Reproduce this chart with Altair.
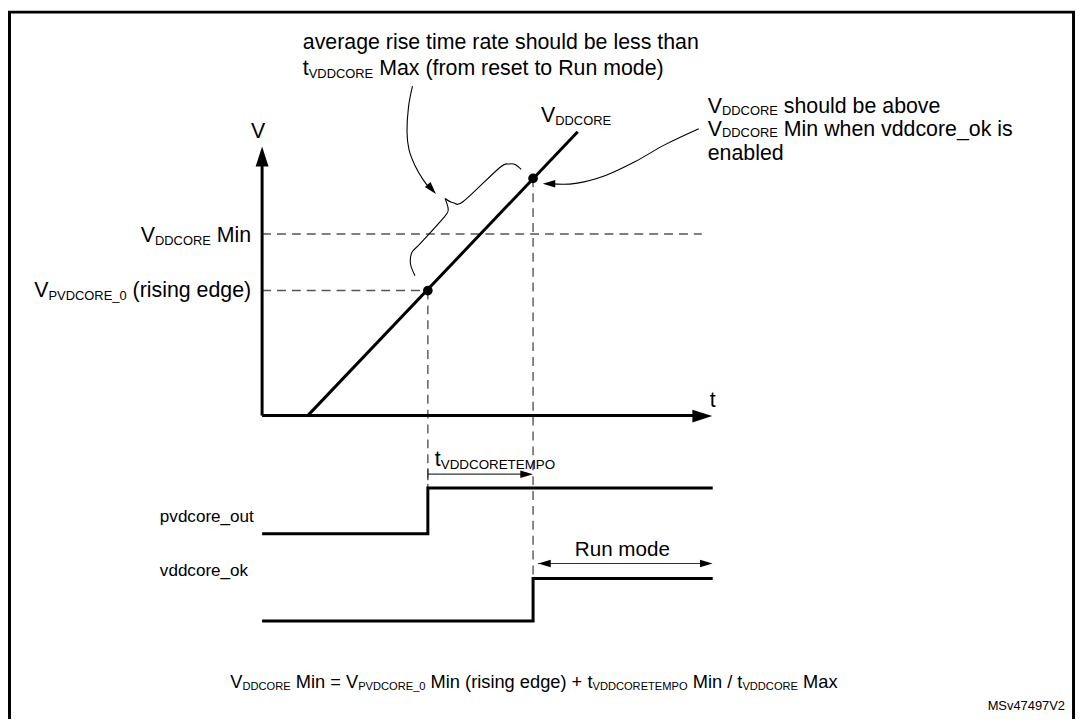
import altair as alt
import pandas as pd

FONT = "Liberation Sans"
W_PAGE, H_PAGE = 1077, 711  # plot area (page coords 8..1085, 8..719)

# ---------------- diagram geometry (figure pixel coordinates) ----------------
solid_seg = ["vaxis", "vaxis", "taxis", "taxis", "ramp", "ramp",
             "pvd", "pvd", "pvd", "pvd", "ok", "ok", "ok", "ok"]
solid_x = [264, 264, 264, 700, 310, 582, 264, 431, 431, 718, 264, 537, 537, 718]
solid_y = [416, 160, 416, 416, 416, 130, 535, 535, 489, 489, 623, 623, 580, 580]

border_x = [9.5, 9.5, 1081.5, 1081.5]
border_y = [760, 9.5, 9.5, 760]

dash_seg = ["min", "min", "pvd0", "pvd0", "v1", "v1", "v2", "v2"]
dash_x = [264, 707, 264, 431, 431, 431, 537, 537]
dash_y = [233, 233, 290, 290, 290, 489, 177, 580]

thin_seg = ["tempo", "tempo", "tick", "tick", "run", "run"]
thin_x = [431, 532, 431, 431, 542, 713]
thin_y = [475, 475, 469, 481, 565, 565]

# brace (two arms meeting at the cusp) and curved callout arrows
curve_seg = (["brace_lo"] * 7 + ["brace_hi"] * 7 + ["call1"] * 7 + ["call2"] * 6)
curve_x = [418, 413.5, 415, 423, 447, 451.5, 448.3,
           448.3, 456.5, 467, 503, 513, 519, 525,
           415.5, 411.5, 410, 412, 418, 426, 433,
           704, 670, 640, 610, 580, 556]
curve_y = [275, 263, 251.5, 243, 216.5, 208.5, 197.3,
           197.3, 201.5, 200, 166.5, 162.5, 163, 168,
           84, 105, 130, 148, 164, 178, 187,
           127, 143, 160, 174, 182, 182.5]

dots_x = [431, 537]
dots_y = [290, 177]

# arrowheads: centre, direction (deg, clockwise from up), size
head_x = [264, 707.5, 530.5, 548.5, 711.5, 435, 553]
head_y = [155, 416.5, 475, 565, 565, 188, 182.3]
head_ang = [0, 90, 90, 270, 90, 139, 270]
head_kind = ["big", "big", "small", "small", "small", "small", "small"]

# ---------------- text ----------------
ARIAL = {' ': 278, '(': 333, ')': 333, '+': 584, '=': 584, '/': 278, '_': 556,
         'A': 667, 'B': 667, 'C': 722, 'D': 722, 'E': 667, 'F': 611, 'G': 778,
         'H': 722, 'I': 278, 'K': 667, 'L': 556, 'M': 833, 'N': 722, 'O': 778,
         'P': 667, 'R': 722, 'S': 667, 'T': 611, 'U': 722, 'V': 667,
         'a': 556, 'b': 556, 'c': 500, 'd': 556, 'e': 556, 'f': 278, 'g': 556,
         'h': 556, 'i': 222, 'k': 500, 'l': 222, 'm': 833, 'n': 556, 'o': 556,
         'p': 556, 'r': 333, 's': 500, 't': 278, 'u': 556, 'v': 500, 'w': 722,
         'x': 500, 'y': 500, 'z': 500}
for d in "0123456789":
    ARIAL[d] = 556


def tw(s, fs):
    return sum(ARIAL.get(c, 556) for c in s) / 1000.0 * fs


MAIN, SUB = 21.5, 13


def run(x, y, pieces, align="left", fs=MAIN, sub=SUB, drop=3):
    total = sum(tw(t, sub if s else fs) for t, s in pieces)
    if align == "right":
        x -= total
    elif align == "center":
        x -= total / 2
    rows = []
    for t, s in pieces:
        f = sub if s else fs
        lead = len(t) - len(t.lstrip(" "))
        xs = x + tw(" " * lead, f)
        rows.append({"x": xs, "y": y + (drop if s else 0), "text": t.strip(" "), "size": f})
        x += tw(t, f)
    return rows


texts = []
texts += run(305, 47, [("average rise time rate should be less than", False)])
texts += run(305, 73, [("t", False), ("VDDCORE", True), (" Max (from reset to Run mode)", False)])
texts += run(545, 120, [("V", False), ("DDCORE", True)])
texts += run(713, 111, [("V", False), ("DDCORE", True), (" should be above", False)], drop=2)
texts += run(713, 134, [("V", False), ("DDCORE", True), (" Min when vddcore_ok is", False)], drop=1.5)
texts += run(713, 158.5, [("enabled", False)])
texts += run(260, 136, [("V", False)], align="center")
texts += run(718, 407, [("t", False)], align="center")
texts += run(253, 241, [("V", False), ("DDCORE", True), (" Min", False)], align="right")
texts += run(253, 297, [("V", False), ("PVDCORE_0", True), (" (rising edge)", False)], align="right")
texts += run(161, 523, [("pvdcore_out", False)], fs=17.2)
texts += run(161, 578, [("vddcore_ok", False)], fs=17.2)
texts += run(438, 467, [("t", False), ("VDDCORETEMPO", True)], sub=13.5)
texts += run(627, 557, [("Run mode", False)], align="center", fs=20.8)
texts += run(232, 690, [("V", False), ("DDCORE", True), (" Min = ", False), ("V", False),
                        ("PVDCORE_0", True), (" Min (rising edge) + ", False), ("t", False),
                        ("VDDCORETEMPO", True), (" Min / ", False), ("t", False),
                        ("VDDCORE", True), (" Max", False)], fs=18.4, sub=11.2, drop=2.5)
texts += run(1073, 713, [("MSv47497V2", False)], align="right", fs=13)

# ---------------- frames ----------------
solid = pd.DataFrame({"seg": solid_seg, "x": solid_x, "y": solid_y})
solid["o"] = range(len(solid))
border = pd.DataFrame({"seg": "b", "x": border_x, "y": border_y})
border["o"] = range(len(border))
dash = pd.DataFrame({"seg": dash_seg, "x": dash_x, "y": dash_y})
dash["o"] = range(len(dash))
thin = pd.DataFrame({"seg": thin_seg, "x": thin_x, "y": thin_y})
thin["o"] = range(len(thin))
curve = pd.DataFrame({"seg": curve_seg, "x": curve_x, "y": curve_y})
curve["o"] = range(len(curve))
dots = pd.DataFrame({"x": dots_x, "y": dots_y})
heads = pd.DataFrame({"x": head_x, "y": head_y, "ang": head_ang, "kind": head_kind})
text_df = pd.DataFrame(texts)

X = alt.X("x:Q", scale=alt.Scale(domain=[8, 1085], nice=False, zero=False), axis=None)
Y = alt.Y("y:Q", scale=alt.Scale(domain=[8, 719], nice=False, zero=False, reverse=True), axis=None)


def lines(df, **kw):
    return alt.Chart(df).mark_line(**kw).encode(x=X, y=Y, detail="seg:N", order="o:Q")


l_border = lines(border, color="black", strokeWidth=3, strokeCap="square")
l_solid = lines(solid, color="black", strokeWidth=3, strokeJoin="miter")
l_dash = lines(dash, color="#555555", strokeWidth=1.4, strokeDash=[9, 6])
l_thin = lines(thin, color="#333333", strokeWidth=1.2)
l_curve = lines(curve, color="black", strokeWidth=1.1, interpolate="cardinal")

big = alt.Chart(heads[heads.kind == "big"]).mark_point(
    shape="M0,-1L0.65,1L-0.65,1Z", filled=True, opacity=1, color="black", size=400
).encode(x=X, y=Y, angle=alt.Angle("ang:Q", scale=None))
small = alt.Chart(heads[heads.kind == "small"]).mark_point(
    shape="M0,-1L0.6,1L-0.6,1Z", filled=True, opacity=1, color="black", size=160
).encode(x=X, y=Y, angle=alt.Angle("ang:Q", scale=None))

pts = alt.Chart(dots).mark_circle(color="black", size=95, opacity=1).encode(x=X, y=Y)

txt = alt.Chart(text_df).mark_text(
    align="left", baseline="alphabetic", font=FONT, color="black"
).encode(x=X, y=Y, text="text:N", size=alt.Size("size:Q", scale=None))

chart = alt.layer(l_border, l_dash, l_thin, l_curve, l_solid, big, small, pts, txt).properties(
    width=W_PAGE, height=H_PAGE,
    autosize=alt.AutoSizeParams(type="none"), padding=0,
).configure_view(stroke=None)

chart.save("out.html", embed_options={"renderer": "svg", "actions": False})
